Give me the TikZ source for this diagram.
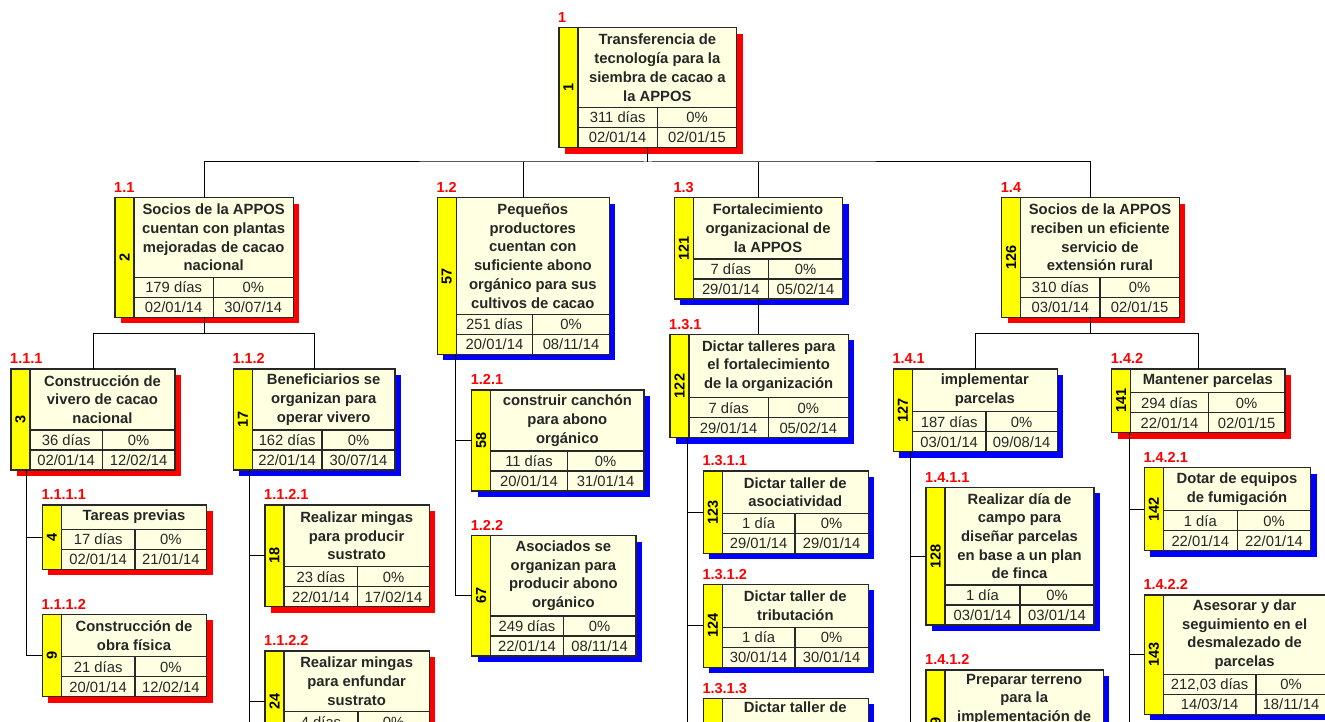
\documentclass[tikz,border=0pt]{standalone}
\usepackage{fontspec}
\setmainfont{Liberation Sans}
\usetikzlibrary{fit}
\definecolor{cream}{RGB}{255,255,225}
\definecolor{wbsline}{RGB}{40,40,40}
\definecolor{shred}{RGB}{255,0,0}
\definecolor{shblue}{RGB}{0,0,255}
\definecolor{barY}{RGB}{255,255,0}
\tikzset{
  boxframe/.style={draw=wbsline, fill=cream, line width=1.2pt, inner sep=0pt, outer sep=0pt, rectangle},
  barframe/.style={draw=wbsline, fill=barY, line width=1.2pt, inner sep=0pt, outer sep=0pt, rectangle},
  divline/.style={draw=wbsline, line width=1.2pt},
  conn/.style={draw=black, line width=1pt},
  titletext/.style={font=\fontsize{14.8}{18.7}\selectfont\bfseries, align=center, inner sep=0pt, text=black!85},
  datatext/.style={font=\fontsize{14.8}{16}\selectfont, inner sep=0pt, text height=10.6pt, text depth=0pt, text=black!85},
  numtext/.style={font=\fontsize{14.5}{16}\selectfont\bfseries, inner sep=0pt, rotate=90},
  codetext/.style={font=\fontsize{14.5}{16}\selectfont\bfseries, text=shred, inner sep=0pt, anchor=base west},
}
% #1 name, #2 left, #3 top, #4 right, #5 title bottom, #6 column divider, #7 shadow colour, #8 number, #9 code
\newcommand\wbsbox[9]{%
  \fill[#7] (#2+6,#3+6) rectangle (#4+6,#5+46);
  \node[boxframe, fit={(#2,#3) (#4,#5+40)}] (#1) {};
  \node[barframe, fit={(#2,#3) (#2+19,#5+40)}] (#1-bar) {};
  \draw[divline] (#2+19,#5) -- (#4,#5) (#2+19,#5+20) -- (#4,#5+20) (#6,#5) -- (#6,#5+40);
  \node[numtext] (#1-num) at (#1-bar.center) {#8};
  \node[codetext] (#1-code) at (#2-1,#3-5.2) {#9};
  \coordinate (#1-t) at ({(#2+19+#4)/2},{(#3+#5)/2});
  \coordinate (#1-c1) at ({(#2+19+#6)/2},#5+10);
  \coordinate (#1-c2) at ({(#6+#4)/2},#5+10);
  \coordinate (#1-c3) at ({(#2+19+#6)/2},#5+30);
  \coordinate (#1-c4) at ({(#6+#4)/2},#5+30);
}
\newcommand\wbstext[6]{%
  \node[titletext] (#1-title) at (#1-t) {#2};
  \node[datatext] (#1-dur) at (#1-c1) {#3};
  \node[datatext] (#1-pct) at (#1-c2) {#4};
  \node[datatext] (#1-start) at (#1-c3) {#5};
  \node[datatext] (#1-end) at (#1-c4) {#6};
}
\begin{document}
\begin{tikzpicture}[x=1pt,y=-1pt]
\useasboundingbox (0,0) rectangle (1325,722);
\clip (0,0) rectangle (1325,722);
\fill[white] (0,0) rectangle (1325,722);

% level 0
\wbsbox{n1}{559}{27.7}{736.7}{107.7}{657.3}{shred}{1}{1}
\wbstext{n1}{Transferencia de\\tecnología para la\\siembra de cacao a\\la APPOS}{311 días}{0\%}{02/01/14}{02/01/15}

% level 1
\wbsbox{n11}{115}{197.7}{293.3}{277.3}{213.3}{shred}{2}{1.1}
\wbstext{n11}{Socios de la APPOS\\cuentan con plantas\\mejoradas de cacao\\nacional}{179 días}{0\%}{02/01/14}{30/07/14}
\wbsbox{n12}{437.3}{197.7}{609.3}{314.3}{532.7}{shblue}{57}{1.2}
\wbstext{n12}{Pequeños\\productores\\cuentan con\\suficiente abono\\orgánico para sus\\cultivos de cacao}{251 días}{0\%}{20/01/14}{08/11/14}
\wbsbox{n13}{674.3}{197.7}{842.7}{259}{768.3}{shblue}{121}{1.3}
\wbstext{n13}{Fortalecimiento\\organizacional de\\la APPOS}{7 días}{0\%}{29/01/14}{05/02/14}
\wbsbox{n14}{1001.7}{197.7}{1179.3}{277.3}{1100}{shred}{126}{1.4}
\wbstext{n14}{Socios de la APPOS\\reciben un eficiente\\servicio de\\extensión rural}{310 días}{0\%}{03/01/14}{02/01/15}

% level 2
\wbsbox{n111}{11}{369}{175}{430}{102.3}{shred}{3}{1.1.1}
\wbstext{n111}{Construcción de\\vivero de cacao\\nacional}{36 días}{0\%}{02/01/14}{12/02/14}
\wbsbox{n112}{233.3}{369}{395}{430}{322}{shblue}{17}{1.1.2}
\wbstext{n112}{Beneficiarios se\\organizan para\\operar vivero}{162 días}{0\%}{22/01/14}{30/07/14}
\wbsbox{n121}{471.7}{390}{644}{451}{567.3}{shblue}{58}{1.2.1}
\wbstext{n121}{construir canchón\\para abono\\orgánico}{11 días}{0\%}{20/01/14}{31/01/14}
\wbsbox{n122}{471.7}{535.7}{636}{616}{563.3}{shblue}{67}{1.2.2}
\wbstext{n122}{Asociados se\\organizan para\\producir abono\\orgánico}{249 días}{0\%}{22/01/14}{08/11/14}
\wbsbox{n131}{670}{334.3}{848.3}{397.7}{768.3}{shblue}{122}{1.3.1}
\wbstext{n131}{Dictar talleres para\\el fortalecimiento\\de la organización}{7 días}{0\%}{29/01/14}{05/02/14}
\wbsbox{n141}{893.3}{369}{1057.3}{411.7}{986}{shblue}{127}{1.4.1}
\wbstext{n141}{implementar\\parcelas}{187 días}{0\%}{03/01/14}{09/08/14}
\wbsbox{n142}{1111.7}{369}{1285}{392.7}{1208.3}{shred}{141}{1.4.2}
\wbstext{n142}{Mantener parcelas}{294 días}{0\%}{22/01/14}{02/01/15}

% level 3
\wbsbox{n1111}{42.3}{505}{206.7}{529.3}{135}{shred}{4}{1.1.1.1}
\wbstext{n1111}{Tareas previas}{17 días}{0\%}{02/01/14}{21/01/14}
\wbsbox{n1112}{42.3}{614.3}{206.7}{656.7}{135}{shred}{9}{1.1.1.2}
\wbstext{n1112}{Construcción de\\obra física}{21 días}{0\%}{20/01/14}{12/02/14}
\wbsbox{n1121}{265}{505}{429.3}{566.7}{357.7}{shred}{18}{1.1.2.1}
\wbstext{n1121}{Realizar mingas\\para producir\\sustrato}{23 días}{0\%}{22/01/14}{17/02/14}
\wbsbox{n1122}{265}{651}{429.3}{711.7}{358}{shred}{24}{1.1.2.2}
\wbstext{n1122}{Realizar mingas\\para enfundar\\sustrato}{4 días}{0\%}{}{}
\wbsbox{n1311}{703.3}{471}{868.3}{513.3}{795}{shblue}{123}{1.3.1.1}
\wbstext{n1311}{Dictar taller de\\asociatividad}{1 día}{0\%}{29/01/14}{29/01/14}
\wbsbox{n1312}{703.3}{584.3}{868.3}{627.3}{795}{shblue}{124}{1.3.1.2}
\wbstext{n1312}{Dictar taller de\\tributación}{1 día}{0\%}{30/01/14}{30/01/14}
\wbsbox{n1313}{703.3}{698.3}{868.3}{741}{795}{shblue}{}{1.3.1.3}
\wbstext{n1313}{Dictar taller de\\\strut}{}{}{}{}
\wbsbox{n1411}{926}{487.3}{1094}{585}{1020}{shblue}{128}{1.4.1.1}
\wbstext{n1411}{Realizar día de\\campo para\\diseñar parcelas\\en base a un plan\\de finca}{1 día}{0\%}{03/01/14}{03/01/14}
\wbsbox{n1412}{926}{670}{1103.3}{749.8}{1024}{shblue}{129}{1.4.1.2}
\wbstext{n1412}{Preparar terreno\\para la\\implementación de\\\strut}{}{}{}{}
\wbsbox{n1421}{1144.3}{467.7}{1310.7}{510.7}{1237.3}{shblue}{142}{1.4.2.1}
\wbstext{n1421}{Dotar de equipos\\de fumigación}{1 día}{0\%}{22/01/14}{22/01/14}
\wbsbox{n1422}{1144.3}{595}{1326}{674.3}{1256}{shblue}{143}{1.4.2.2}
\wbstext{n1422}{Asesorar y dar\\seguimiento en el\\desmalezado de\\parcelas}{212,03 días}{0\%}{14/03/14}{18/11/14}

% connectors
\coordinate (bottom) at (0,730);
\coordinate (bus1) at ([yshift=-14.3pt]n1.south);
\draw[conn] (n1.south) -- (bus1);
\draw[conn] (n11.north) |- (bus1) -| (n14.north);
\draw[conn] (n12.north) -- (n12.north |- bus1);
\draw[conn] (n13.north) -- (n13.north |- bus1);

\coordinate (bus11) at ([yshift=-16pt]n11.south);
\draw[conn] (n11.south) -- (bus11);
\draw[conn] (n111.north) |- (bus11) -| (n112.north);

\coordinate (bus14) at ([yshift=-16pt]n14.south);
\draw[conn] (n14.south) -- (bus14);
\draw[conn] (n141.north) |- (bus14) -| (n142.north);

\draw[conn] (n13.south) -- (n13.south |- n131.north);

\coordinate (t12) at ([xshift=18.4pt]n12.south west);
\draw[conn] (t12) |- (n121.west);
\draw[conn] (t12) |- (n122.west);

\coordinate (t111) at ([xshift=15pt]n111.south west);
\draw[conn] (t111) |- (n1111.west);
\draw[conn] (t111) |- (n1112.west);

\coordinate (t112) at ([xshift=15.7pt]n112.south west);
\draw[conn] (t112) |- (n1121.west);
\draw[conn] (t112) |- (n1122.west);
\draw[conn] (t112) -- (t112 |- bottom);

\coordinate (t131) at ([xshift=17.7pt]n131.south west);
\draw[conn] (t131) |- (n1311.west);
\draw[conn] (t131) |- (n1312.west);
\draw[conn] (t131) -- (t131 |- bottom);

\coordinate (t141) at ([xshift=17.4pt]n141.south west);
\draw[conn] (t141) |- (n1411.west);
\draw[conn] (t141) -- (t141 |- bottom);

\coordinate (t142) at ([xshift=17.6pt]n142.south west);
\draw[conn] (t142) |- (n1421.west);
\draw[conn] (t142) |- (n1422.west);
\draw[conn] (t142) -- (t142 |- bottom);
\end{tikzpicture}
\end{document}
